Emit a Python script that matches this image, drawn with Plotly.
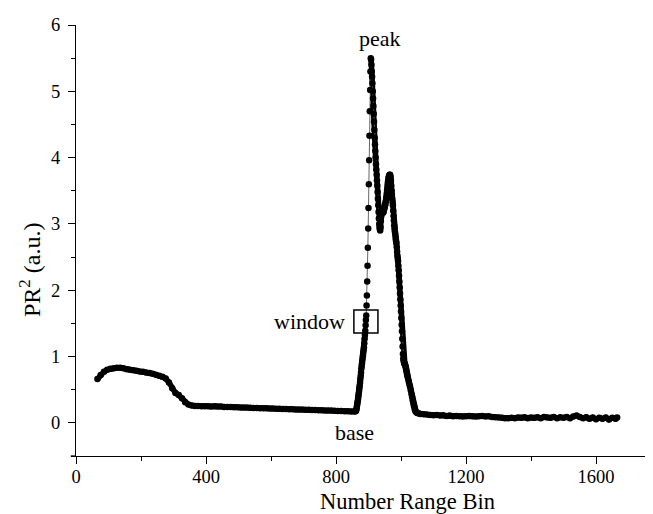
import plotly.graph_objects as go

# ---- data ----
hump_bins = list(range(66, 857, 10))
hump_pr2 = [0.66, 0.72, 0.77, 0.80, 0.815, 0.825, 0.83, 0.83, 0.825, 0.81,
            0.80, 0.795, 0.785, 0.775, 0.77, 0.76, 0.75, 0.74, 0.725, 0.71,
            0.695, 0.67, 0.61, 0.52, 0.45, 0.42, 0.37, 0.31, 0.275, 0.26,
            0.255, 0.255, 0.25, 0.25, 0.25, 0.248, 0.25, 0.245, 0.245, 0.24,
            0.24, 0.238, 0.236, 0.235, 0.233, 0.23, 0.23, 0.228, 0.225, 0.224,
            0.222, 0.22, 0.22, 0.218, 0.215, 0.214, 0.212, 0.21, 0.208, 0.206,
            0.205, 0.203, 0.2, 0.2, 0.198, 0.196, 0.195, 0.193, 0.19, 0.19,
            0.188, 0.186, 0.185, 0.183, 0.18, 0.178, 0.176, 0.175, 0.172, 0.17]

foot_bins = list(range(860, 890))
foot_pr2 = [0.175, 0.18, 0.19, 0.21, 0.24, 0.27, 0.30, 0.33, 0.36, 0.40,
            0.44, 0.48, 0.52, 0.56, 0.61, 0.66, 0.71, 0.76, 0.82, 0.86,
            0.90, 0.94, 0.98, 1.02, 1.06, 1.10, 1.14, 1.20, 1.27, 1.33]

spike_bins = list(range(890, 907))
spike_pr2 = [1.39, 1.47, 1.55, 1.62, 1.77, 1.92, 2.13, 2.37, 2.64, 2.93,
             3.24, 3.60, 3.96, 4.33, 4.70, 5.02, 5.30]

fall_bins = list(range(907, 1021)) + list(range(1022, 1045, 2)) + [1047, 1050, 1055]
fall_pr2 = [5.50, 5.48, 5.40, 5.30, 5.22, 5.12, 5.00, 4.89, 4.78, 4.66,
            4.54, 4.42, 4.30, 4.20, 4.10, 4.00, 3.90, 3.82, 3.74, 3.66,
            3.58, 3.48, 3.38, 3.28, 3.18, 3.08, 3.00, 2.95, 2.92, 2.90,
            2.95, 3.05, 3.12, 3.18, 3.20, 3.22, 3.20, 3.18, 3.17, 3.18,
            3.20, 3.22, 3.24, 3.26, 3.28, 3.30, 3.33, 3.36, 3.40, 3.45,
            3.50, 3.55, 3.60, 3.64, 3.67, 3.70, 3.72, 3.73, 3.74, 3.74,
            3.73, 3.70, 3.65, 3.58, 3.50, 3.44, 3.38, 3.33, 3.28, 3.20,
            3.12, 3.05, 2.98, 2.93, 2.89, 2.85, 2.81, 2.77, 2.74, 2.71,
            2.65, 2.58, 2.52, 2.48, 2.44, 2.37, 2.30, 2.22, 2.13, 2.04,
            1.95, 1.86, 1.77, 1.68, 1.58, 1.48, 1.38, 1.27, 1.15, 1.04,
            0.97, 0.94, 0.92, 0.90, 0.89, 0.88, 0.87, 0.85, 0.83, 0.81,
            0.78, 0.75, 0.73, 0.70,
            0.66, 0.62, 0.58, 0.54, 0.49, 0.44, 0.39, 0.34, 0.29, 0.25,
            0.21, 0.18, 0.16, 0.15, 0.14]

tail_bins = list(range(1060, 1661, 10)) + [1665]
tail_pr2 = [0.135, 0.13, 0.125, 0.12, 0.115, 0.12, 0.11, 0.115, 0.105, 0.11,
            0.10, 0.105, 0.10, 0.095, 0.10, 0.105, 0.10, 0.095, 0.10, 0.105,
            0.095, 0.10, 0.09, 0.085, 0.08, 0.075, 0.07, 0.07, 0.075, 0.07,
            0.08, 0.075, 0.085, 0.07, 0.08, 0.075, 0.085, 0.07, 0.09, 0.08,
            0.075, 0.09, 0.07, 0.085, 0.075, 0.09, 0.07, 0.095, 0.11, 0.09,
            0.07, 0.085, 0.06, 0.08, 0.055, 0.075, 0.06, 0.08, 0.05, 0.075,
            0.06, 0.08]

x_tickvals = [0, 400, 800, 1200, 1600]
x_ticktext = ["0", "400", "800", "1200", "1600"]
y_tickvals = [0, 1, 2, 3, 4, 5, 6]
y_ticktext = ["0", "1", "2", "3", "4", "5", "6"]

all_bins = hump_bins + foot_bins + spike_bins + fall_bins + tail_bins
all_pr2 = hump_pr2 + foot_pr2 + spike_pr2 + fall_pr2 + tail_pr2

# dense parts drawn as a thick band (overlapping dots in the original)
dense_bins = hump_bins + foot_bins + [None] + fall_bins + tail_bins
dense_pr2 = hump_pr2 + foot_pr2 + [None] + fall_pr2 + tail_pr2

FONT = "Liberation Serif, Times New Roman, serif"

fig = go.Figure()
fig.add_trace(go.Scatter(x=dense_bins, y=dense_pr2, mode="lines",
                         line=dict(color="black", width=5.5),
                         connectgaps=False, hoverinfo="skip", showlegend=False))
fig.add_trace(go.Scatter(x=all_bins, y=all_pr2, mode="lines+markers",
                         line=dict(color="#666666", width=1),
                         marker=dict(color="black", size=6.5),
                         showlegend=False))

# window box
fig.add_shape(type="rect", xref="x", yref="y", x0=855, x1=929, y0=1.355, y1=1.70,
              line=dict(color="black", width=1.5), fillcolor="rgba(0,0,0,0)")
# small overhang of the x axis line to the left of the y axis
fig.add_shape(type="line", xref="paper", yref="paper", x0=-0.009, x1=0, y0=0, y1=0,
              line=dict(color="black", width=1.3))

ann_font = dict(family=FONT, size=22, color="black")
fig.add_annotation(x=935, y=5.79, xref="x", yref="y", text="peak",
                   showarrow=False, font=ann_font)
fig.add_annotation(x=717, y=1.535, xref="x", yref="y", text="window",
                   showarrow=False, font=ann_font)
fig.add_annotation(x=858, y=-0.14, xref="x", yref="y", text="base",
                   showarrow=False, font=ann_font)

# axis titles
fig.add_annotation(x=0.5675, y=-0.105, xref="paper", yref="paper",
                   text="Number Range Bin", showarrow=False,
                   font=dict(family=FONT, size=22.5, color="black"),
                   xanchor="center", yanchor="middle")
fig.add_annotation(x=-0.0786, y=0.4316, xref="paper", yref="paper",
                   text="PR<sup>2</sup> (a.u.)", showarrow=False, textangle=-90,
                   font=dict(family=FONT, size=24, color="black"),
                   xanchor="center", yanchor="middle")

axis_common = dict(showline=True, linecolor="black", linewidth=1.3,
                   ticks="outside", ticklen=7, tickwidth=1.3, tickcolor="black",
                   showgrid=False, zeroline=False,
                   tickfont=dict(family=FONT, size=18.5, color="black"))

fig.update_xaxes(range=[0, 1800], tickmode="array", tickvals=x_tickvals,
                 ticktext=x_ticktext, ticklabelstandoff=-3,
                 minor=dict(tickmode="linear", tick0=0, dtick=200, ticks="outside",
                            ticklen=4, tickwidth=1.3, tickcolor="black"),
                 **axis_common)
fig.update_yaxes(range=[-0.5, 6], tickmode="array", tickvals=y_tickvals,
                 ticktext=y_ticktext, ticklabelstandoff=4,
                 minor=dict(tickmode="linear", tick0=0, dtick=0.5, ticks="outside",
                            ticklen=4, tickwidth=1.3, tickcolor="black"),
                 **axis_common)

fig.update_layout(width=653, height=514, plot_bgcolor="white", paper_bgcolor="white",
                  margin=dict(l=68, r=0, t=17, b=66), showlegend=False)

fig.write_html("out.html")
